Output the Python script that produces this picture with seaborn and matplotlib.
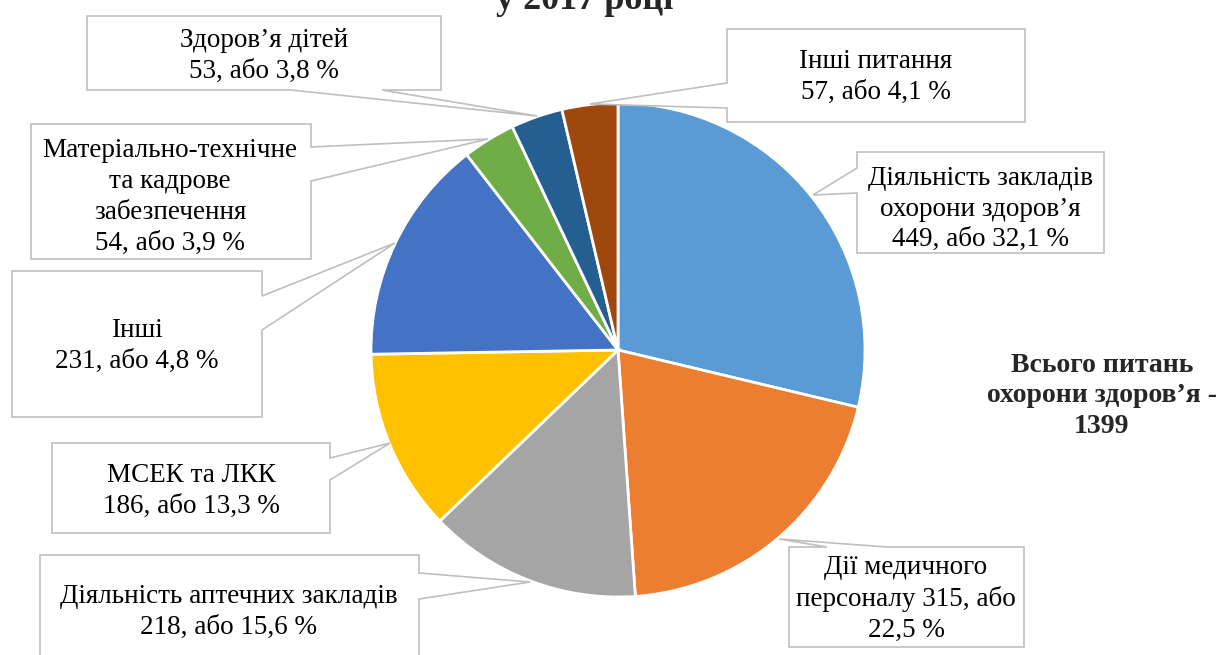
import matplotlib
matplotlib.use("Agg")
import matplotlib.pyplot as plt
from matplotlib.patches import Polygon
import seaborn as sns

# ---- data -------------------------------------------------------------
categories = [
    "Діяльність закладів охорони здоров’я",
    "Дії медичного персоналу",
    "Діяльність аптечних закладів",
    "МСЕК та ЛКК",
    "Інші",
    "Матеріально-технічне та кадрове забезпечення",
    "Здоров’я дітей",
    "Інші питання",
]
counts = [449, 315, 218, 186, 231, 54, 53, 57]
shares = ["32,1", "22,5", "15,6", "13,3", "4,8", "3,9", "3,8", "4,1"]
label_templates = [
    "Діяльність закладів\nохорони здоров’я\n{n}, або {p} %",
    "Дії медичного\nперсоналу {n}, або\n{p} %",
    "Діяльність аптечних закладів\n{n}, або {p} %",
    "МСЕК та ЛКК\n{n}, або {p} %",
    "Інші\n{n}, або {p} %",
    "Матеріально-технічне\nта кадрове\nзабезпечення\n{n}, або {p} %",
    "Здоров’я дітей\n{n}, або {p} %",
    "Інші питання\n{n}, або {p} %",
]
total_questions = 1399
title_tail = "у 2017 році"
colors = ["#5B9BD5", "#ED7D31", "#A5A5A5", "#FFC000",
          "#4472C4", "#70AD47", "#255E91", "#9E480E"]

# ---- style -------------------------------------------------------------
sns.set_theme(style="white")
plt.rcParams["font.family"] = ["Liberation Serif", "DejaVu Serif"]

W, H = 1216, 655
fig = plt.figure(figsize=(W / 100, H / 100), dpi=100)
ax = fig.add_axes([0, 0, 1, 1])


def py(y):
    """Convert a top-down pixel row into the axes' y coordinate."""
    return H - y


# ---- pie ---------------------------------------------------------------
ax.pie(counts, colors=colors, startangle=90, counterclock=False,
       center=(618, py(350)), radius=247,
       wedgeprops=dict(edgecolor="white", linewidth=2.0))

# ---- callout boxes ------------------------------------------------------
# box = (left, top, right, bottom), side of the pointer, base span on that
# side, and the pointer tip, all in top-down pixel units.
callouts = [
    dict(box=(857, 152, 1104, 253), side="left", base=(168, 193), tip=(813, 195), text=(980, 209)),
    dict(box=(789, 547, 1024, 647), side="top", base=(827, 887), tip=(779, 539), text=(906, 599)),
    dict(box=(40, 555, 419, 690), side="right", base=(573, 599), tip=(530, 582), text=(229, 612)),
    dict(box=(52, 443, 330, 533), side="right", base=(458, 480), tip=(390, 443), text=(191, 491)),
    dict(box=(12, 271, 262, 417), side="right", base=(296, 330), tip=(395, 243), text=(137, 346)),
    dict(box=(31, 124, 311, 259), side="right", base=(147, 181), tip=(488, 139), text=(170, 197)),
    dict(box=(87, 16, 441, 90), side="bottom", base=(291, 382), tip=(537, 116), text=(264, 56)),
    dict(box=(727, 29, 1025, 122), side="left", base=(83, 108), tip=(590, 104), text=(876, 77)),
]


def callout_vertices(box, side, base, tip):
    x0, y0, x1, y1 = box
    a, b = base
    pts = [(x0, y0)]
    if side == "top":
        pts += [(a, y0), tip, (b, y0)]
    pts.append((x1, y0))
    if side == "right":
        pts += [(x1, a), tip, (x1, b)]
    pts.append((x1, y1))
    if side == "bottom":
        pts += [(b, y1), tip, (a, y1)]
    pts.append((x0, y1))
    if side == "left":
        pts += [(x0, b), tip, (x0, a)]
    return [(x, py(y)) for x, y in pts]


for spec, tmpl, n, p in zip(callouts, label_templates, counts, shares):
    poly = Polygon(callout_vertices(spec["box"], spec["side"], spec["base"], spec["tip"]),
                   closed=True, facecolor="white", edgecolor="#BFBFBF",
                   linewidth=1.2, zorder=3, joinstyle="miter")
    ax.add_patch(poly)
    tx, ty = spec["text"]
    ax.text(tx, py(ty), tmpl.format(n=n, p=p), ha="center", va="center",
            fontsize=19.5, color="black", linespacing=1.3, zorder=4)

# ---- total and title ----------------------------------------------------
ax.text(1102, py(396), f"Всього питань\nохорони здоров’я -\n{total_questions}",
        ha="center", va="center", fontsize=20, fontweight="bold",
        linespacing=1.29, zorder=4)
ax.text(585, py(9), title_tail, ha="center", va="baseline",
        fontsize=26, fontweight="bold", zorder=4)

ax.set_xlim(0, W)
ax.set_ylim(0, H)
ax.set_aspect("equal", adjustable="box")
ax.axis("off")

fig.savefig("out.png", dpi=100, facecolor="white")
